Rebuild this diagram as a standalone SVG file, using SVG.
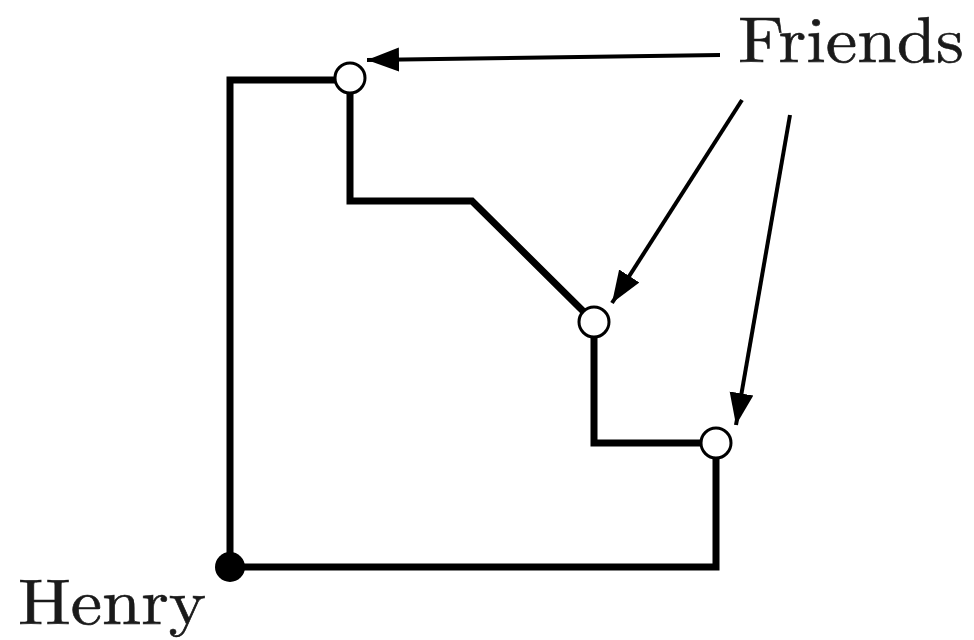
<svg xmlns="http://www.w3.org/2000/svg" width="974" height="640" viewBox="0 0 974 640">
  <style>
    .wire { fill: none; stroke: #000; stroke-width: 7; stroke-linejoin: miter; }
    .ptr { fill: none; stroke: #000; stroke-width: 4; }
    .friend { fill: #fff; stroke: #000; stroke-width: 3; }
    .home { fill: #000; }
    .lbl { font-family: "Latin Modern Roman", "Liberation Serif", "DejaVu Serif", serif; font-size: 64px; fill: #1a1a1a; stroke: #1a1a1a; stroke-width: 0.6; }
  </style>
  <defs>
    <marker id="head" markerUnits="userSpaceOnUse" markerWidth="34" markerHeight="28" refX="32" refY="14" orient="auto">
      <path d="M0,2 L32,14 L0,26 Z" fill="#000"/>
    </marker>
  </defs>

  <!-- connectors -->
  <g id="connectors">
    <!-- outer route: Henry up and over, and along the bottom -->
    <path class="wire" d="M335,80 H230 V567 H716 V458"/>
    <!-- inner route between friends -->
    <path class="wire" d="M350,93 V201 H472 L583,311"/>
    <path class="wire" d="M594,337 V443 H700"/>
    <!-- pointers from the label -->
    <line class="ptr" x1="720" y1="55" x2="367" y2="60" marker-end="url(#head)"/>
    <line class="ptr" x1="742" y1="100" x2="612" y2="303" marker-end="url(#head)"/>
    <line class="ptr" x1="790" y1="115" x2="736" y2="425" marker-end="url(#head)"/>
  </g>

  <g id="friend-1"><circle class="friend" cx="350" cy="78" r="15"/></g>
  <g id="friend-2"><circle class="friend" cx="594" cy="322" r="15"/></g>
  <g id="friend-3"><circle class="friend" cx="716" cy="443" r="15"/></g>
  <g id="henry">
    <circle class="home" cx="230" cy="567" r="15"/>
    <text class="lbl" x="18" y="624" textLength="188" lengthAdjust="spacingAndGlyphs">Henry</text>
  </g>
  <g id="friends-label">
    <text class="lbl" x="738" y="62" textLength="226" lengthAdjust="spacingAndGlyphs">Friends</text>
  </g>
</svg>
